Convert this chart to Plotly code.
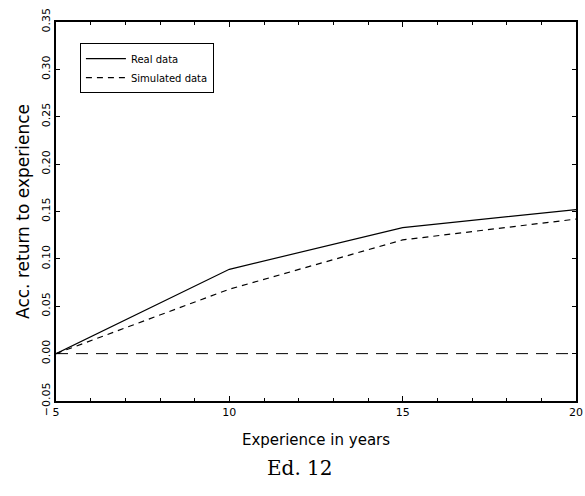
import plotly.graph_objects as go

experience = [5, 10, 15, 20]
real_data = [0.0, 0.089, 0.133, 0.152]
simulated_data = [0.0, 0.068, 0.120, 0.142]
zero_x = [5, 20]
zero_y = [0.0, 0.0]
x_ticks = [5, 10, 15, 20]
y_ticks = [-0.05, 0.0, 0.05, 0.10, 0.15, 0.20, 0.25, 0.30, 0.35]

fig = go.Figure()
fig.add_trace(go.Scatter(x=experience, y=real_data, mode="lines", name="Real data",
                         line=dict(color="black", width=1.2)))
fig.add_trace(go.Scatter(x=experience, y=simulated_data, mode="lines", name="Simulated data",
                         line=dict(color="black", width=1.2, dash="6px,5px")))
fig.add_trace(go.Scatter(x=zero_x, y=zero_y, mode="lines", showlegend=False,
                         line=dict(color="black", width=1, dash="12px,8px")))

tick_font = dict(family="DejaVu Sans", size=11, color="black")
fig.update_layout(
    width=585, height=496,
    margin=dict(l=56, r=9, t=22, b=95),
    paper_bgcolor="white", plot_bgcolor="white",
    font=tick_font,
    showlegend=True,
    legend=dict(x=0.046, y=0.944, xanchor="left", yanchor="top",
                bordercolor="black", borderwidth=1, bgcolor="white",
                font=dict(family="DejaVu Sans", size=10, color="black"),
                tracegroupgap=0, itemwidth=40),
    xaxis=dict(range=[5, 20], tickmode="array", tickvals=x_ticks, ticks="inside", ticklen=5,
               tickwidth=1, tickcolor="black", showline=True, linecolor="black", linewidth=2,
               mirror="ticks", showgrid=False, zeroline=False, automargin=False,
               minor=dict(tickmode="linear", tick0=5, dtick=1, ticks="inside", ticklen=3,
                          tickcolor="black", tickwidth=1, showgrid=False),
               title=dict(text="Experience in years",
                          font=dict(family="DejaVu Sans", size=15, color="black"), standoff=16),
               tickfont=tick_font),
    yaxis=dict(range=[-0.05, 0.35], tickmode="array", tickvals=y_ticks, tickformat=".2f",
               tickangle=-90, ticks="inside", ticklen=4, tickwidth=1, tickcolor="black",
               showline=True, linecolor="black", linewidth=2, mirror="ticks",
               showgrid=False, zeroline=False, automargin=False,
               title=dict(text="Acc. return to experience",
                          font=dict(family="DejaVu Sans", size=17, color="black"), standoff=6),
               tickfont=tick_font),
    annotations=[dict(text="Ed. 12", xref="paper", yref="paper", x=0.47, y=-0.177,
                      xanchor="center", yanchor="middle", showarrow=False,
                      font=dict(family="DejaVu Serif", size=20, color="black"))],
)

fig.write_html("out.html", config={"displayModeBar": False},
               post_script="document.body.style.margin='0px';")
